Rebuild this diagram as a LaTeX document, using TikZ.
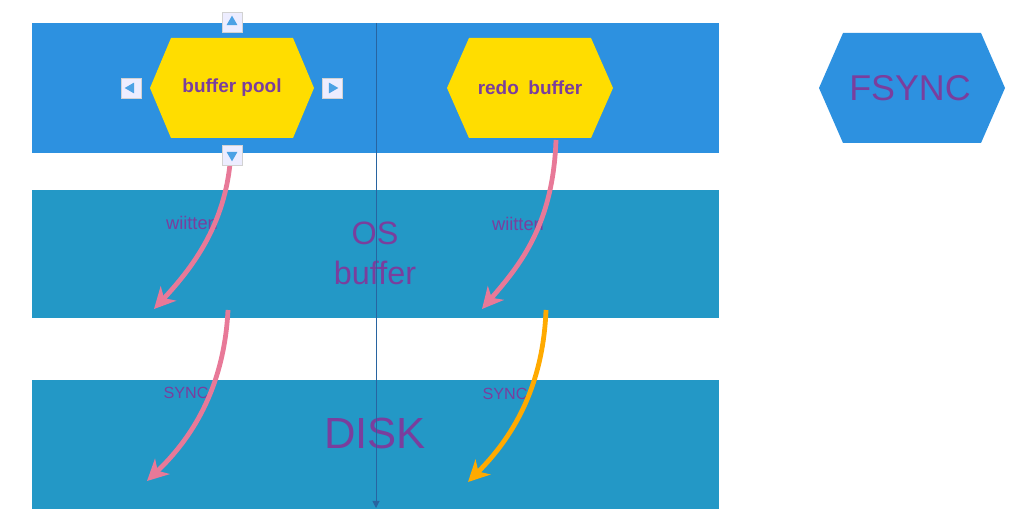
\documentclass[tikz,border=0pt]{standalone}
\usepackage{fontspec}
\setmainfont{Liberation Sans}
\usetikzlibrary{arrows.meta,shapes.geometric}

\definecolor{topblue}{RGB}{45,145,224}
\definecolor{bandblue}{RGB}{35,152,198}
\definecolor{hexyellow}{RGB}{255,221,0}
\definecolor{txtpurple}{RGB}{122,62,157}
\definecolor{arrowpink}{RGB}{232,121,152}
\definecolor{arroworange}{RGB}{255,170,0}
\definecolor{axisblue}{RGB}{40,100,160}

\begin{document}
\begin{tikzpicture}[
        x=0.025cm, y=-0.025cm,
        tag/.style={text=txtpurple, inner sep=0pt},
        flow/.style={line width=3.4pt, -{Stealth[length=15pt, width=15pt, inset=4.5pt]}},
        handle/.style={draw=gray!35, fill=blue!7, minimum size=14pt, inner sep=0pt},
        tri/.style={regular polygon, regular polygon sides=3, fill=topblue!85, minimum size=9pt, inner sep=0pt}
      ]
      \useasboundingbox (0,0) rectangle (1016,524);

      % bands
      \fill[topblue] (32,23) rectangle (719,153);
      \fill[bandblue] (32,190) rectangle (719,318);
      \fill[bandblue] (32,380) rectangle (719,509);

      % hexagons
      \fill[hexyellow] (150,88) -- (171,38) -- (293,38) -- (314,88) -- (293,138) -- (171,138) -- cycle;
      \fill[hexyellow] (447,88) -- (469,38) -- (591,38) -- (613,88) -- (591,138) -- (469,138) -- cycle;
      \fill[topblue] (819,88) -- (843,33) -- (981,33) -- (1005,88) -- (981,143) -- (843,143) -- cycle;

      \node (BP) at (232,88) [tag, font=\fontsize{13.5}{14}\bfseries] {buffer pool};
      \node (RB) at (530,88) [tag, font=\fontsize{13.5}{14}\bfseries] {redo\enspace buffer};
      \node (FS) at (910,88) [tag, font=\fontsize{25.5}{28}\selectfont] {FSYNC};
      \node (OS) at (375,253) [tag, align=center, font=\fontsize{23}{28.5}\selectfont] {OS\\buffer};
      \node (DK) at (375,433) [tag, font=\fontsize{31}{32}\selectfont] {DISK};

      \node (W1) at (192,223) [tag, font=\fontsize{13}{14}\selectfont] {wiitten};
      \node (W2) at (518,224) [tag, font=\fontsize{13}{14}\selectfont] {wiitten};
      \node (S1) at (186,393) [tag, font=\fontsize{11.5}{12}\selectfont] {SYNC};
      \node (S2) at (505,394) [tag, font=\fontsize{11.5}{12}\selectfont] {SYNC};

      % flows
      \coordinate (bpout) at (231,150);
      \coordinate (osin1) at (154,309);
      \coordinate (rbout) at (556,140);
      \coordinate (osin2) at (482,309);
      \coordinate (osout1) at (228,310);
      \coordinate (dkin1) at (147,481);
      \coordinate (osout2) at (546,310);
      \coordinate (dkin2) at (468,482);

      \draw[flow, arrowpink] (bpout) .. controls (228,220) and (195,265) .. (osin1);
      \draw[flow, arrowpink] (rbout) .. controls (553,225) and (520,265) .. (osin2);
      \draw[flow, arrowpink] (osout1) .. controls (224,390) and (190,440) .. (dkin1);
      \draw[flow, arroworange] (osout2) .. controls (543,390) and (510,440) .. (dkin2);

      % axis
      \coordinate (axtop) at (376,23);
      \coordinate (axbot) at (376,508);
      \draw[axisblue, line width=0.7pt, -{Triangle[length=5pt, width=5pt]}] (axtop) -- (axbot);

      % selection handles
      \node (hN) at (232,22) [handle] {};
      \node (hW) at (131,88) [handle] {};
      \node (hE) at (332,88) [handle] {};
      \node (hS) at (232,155) [handle] {};
      \node at (hN) [tri] {};
      \node at (hW) [tri, rotate=90] {};
      \node at (hE) [tri, rotate=-90] {};
      \node at (hS) [tri, rotate=180] {};
    \end{tikzpicture}
\end{document}
